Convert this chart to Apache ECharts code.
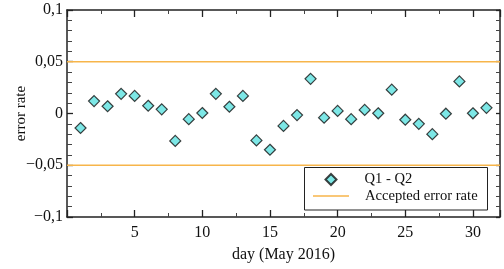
<!DOCTYPE html>
<html>
<head>
<meta charset="utf-8">
<script src="https://cdn.jsdelivr.net/npm/echarts@6/dist/echarts.min.js"></script>
<style>
  html, body { margin: 0; padding: 0; background: #fff; }
  #chart { width: 504px; height: 269px; }
</style>
</head>
<body>
<div id="chart"></div>
<script>
// days of May 2016
const days = [1, 2, 3, 4, 5, 6, 7, 8, 9, 10, 11, 12, 13, 14, 15, 16,
  17, 18, 19, 20, 21, 22, 23, 24, 25, 26, 27, 28, 29, 30, 31]
// Q1 - Q2 error rate per day
const errorRate = [-0.014, 0.012, 0.007, 0.019, 0.017, 0.0075, 0.004, -0.0265,
  -0.0055, 0.0005, 0.019, 0.0065, 0.017, -0.026, -0.035, -0.012, -0.0015,
  0.0335, -0.004, 0.0025, -0.0055, 0.0035, 0.0002, 0.023, -0.006, -0.01,
  -0.02, -0.0002, 0.031, 0.0002, 0.0055]
// accepted error rate band
const limitX = [0, 32]
const upperLimit = [0.05, 0.05]
const lowerLimit = [-0.05, -0.05]

const font = "'Liberation Serif', serif"
const axisColor = '#222'
const orange = '#f7b54a'

const fmtY = v => {
  if (Math.abs(v) < 1e-9) return '0'
  return String(+v.toFixed(2)).replace('.', ',').replace('-', '\u2212')
}

const tick = len => ({ show: true, inside: true, length: len, lineStyle: { color: axisColor, width: 1.3 } })
const minor = (n, len) => ({ show: true, splitNumber: n, length: len, lineStyle: { color: '#444', width: 1 } })
const line = { show: true, onZero: false, lineStyle: { color: axisColor, width: 1.5 } }

const chart = echarts.init(document.getElementById('chart'))

chart.setOption({
  animation: false,
  backgroundColor: '#fff',
  textStyle: { fontFamily: font },
  grid: { left: 67, right: 4, top: 10, bottom: 52, containLabel: false, outerBoundsMode: 'none' },
  xAxis: [
    {
      type: 'value', min: 0, max: 32, interval: 5,
      position: 'bottom',
      axisLine: line,
      axisTick: tick(7),
      minorTick: minor(2, 4),
      splitLine: { show: false },
      name: 'day (May 2016)',
      nameLocation: 'middle',
      nameGap: 30,
      nameMoveOverlap: false,
      nameTextStyle: { fontFamily: font, fontSize: 16, color: '#111' },
      axisLabel: {
        show: true, fontFamily: font, fontSize: 16, color: '#111', margin: 8,
        showMinLabel: false, showMaxLabel: false
      }
    },
    {
      type: 'value', min: 0, max: 32, interval: 5,
      position: 'top',
      axisLine: line,
      axisTick: tick(7),
      minorTick: minor(2, 4),
      splitLine: { show: false },
      axisLabel: { show: false }
    }
  ],
  yAxis: [
    {
      type: 'value', min: -0.1, max: 0.1, interval: 0.05,
      position: 'left',
      axisLine: line,
      axisTick: tick(6),
      minorTick: minor(5, 5),
      splitLine: { show: false },
      name: 'error rate',
      nameLocation: 'middle',
      nameGap: 38,
      nameMoveOverlap: false,
      nameTextStyle: { fontFamily: font, fontSize: 15, color: '#111' },
      axisLabel: { show: true, fontFamily: font, fontSize: 16, color: '#111', margin: 4, formatter: fmtY }
    },
    {
      type: 'value', min: -0.1, max: 0.1, interval: 0.05,
      position: 'right',
      axisLine: line,
      axisTick: tick(4),
      minorTick: minor(5, 4),
      splitLine: { show: false },
      axisLabel: { show: false }
    }
  ],
  // legend frame
  graphic: [{
    type: 'rect',
    z: 3,
    shape: { x: 304.5, y: 167.5, width: 183, height: 42.5 },
    style: { fill: '#fff', stroke: axisColor, lineWidth: 1 }
  }],
  legend: [
    {
      orient: 'vertical',
      left: 324.5,
      top: 172,
      padding: 0,
      itemWidth: 11,
      itemHeight: 11,
      selectedMode: false,
      textStyle: { fontFamily: font, fontSize: 14.6, color: '#111', padding: [0, 0, 0, 23] },
      data: [{ name: 'Q1 - Q2', icon: 'diamond' }]
    },
    {
      orient: 'vertical',
      left: 313,
      top: 188.5,
      padding: 0,
      itemWidth: 36,
      itemHeight: 1.5,
      selectedMode: false,
      textStyle: { fontFamily: font, fontSize: 14.6, color: '#111', padding: [0, 0, 0, 11] },
      data: [{ name: 'Accepted error rate', icon: 'rect' }]
    }
  ],
  series: [
    {
      name: 'Accepted error rate',
      type: 'line',
      data: limitX.map((x, i) => [x, upperLimit[i]]),
      symbol: 'none',
      lineStyle: { color: orange, width: 1.3 },
      itemStyle: { color: orange },
      z: 1
    },
    {
      name: 'Accepted error rate',
      type: 'line',
      data: limitX.map((x, i) => [x, lowerLimit[i]]),
      symbol: 'none',
      lineStyle: { color: orange, width: 1.3 },
      itemStyle: { color: orange },
      z: 1
    },
    {
      name: 'Q1 - Q2',
      type: 'scatter',
      symbol: 'diamond',
      symbolSize: 11,
      data: days.map((d, i) => [d, errorRate[i]]),
      itemStyle: { color: '#5ce1e0', borderColor: '#111', borderWidth: 1.2 },
      z: 3
    }
  ]
})
</script>
</body>
</html>
